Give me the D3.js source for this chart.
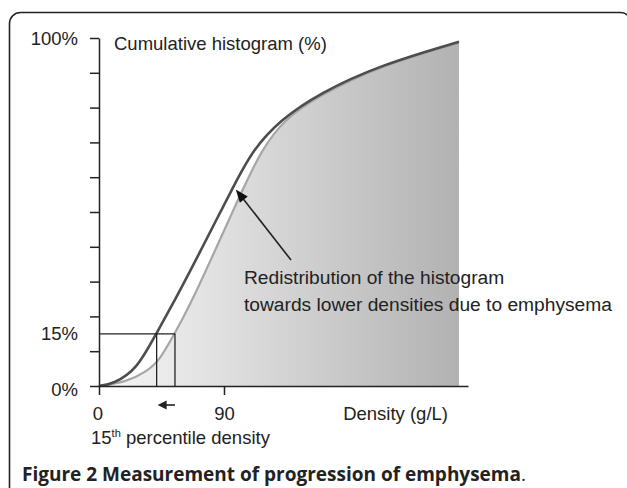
<!DOCTYPE html>
<html>
<head>
<meta charset="utf-8">
<script src="https://cdn.jsdelivr.net/npm/d3@7"></script>
<style>
  body { margin: 0; background: #fff; }
  text { font-family: "Liberation Sans", Arial, sans-serif; fill: #222; }
</style>
</head>
<body>
<div id="chart"></div>
<script>
// density (g/L) vs cumulative histogram (%)
const normalCurve = [[0,0],[10.1,0.6],[27.1,4.6],[41.5,15.3],[54.7,24.7],[69.8,36.2],[99.1,59.2],[110.9,67.8],[130.3,76.4],[159.1,84.2],[202.3,92.2],[259.2,98.9]];
const emphCurve = [[0,0],[19.9,1.2],[34.3,4.1],[43.9,7.5],[54.7,15.3],[67.7,24.7],[106.3,59.2],[117.4,67.8],[132.5,76.4],[159.1,83.6],[202.3,92.0],[259.2,98.6]];
const yTicks = [0,10,20,30,40,50,60,70,80,90,100];
const yLabels = [[0,"0%"],[15,"15%"],[100,"100%"]];
const xTicks = [0,90];
const pct15 = 15;
const p15Normal = 41.5;
const p15Emph = 54.7;

const W = 627, H = 488;
const svg = d3.select("#chart").append("svg").attr("width", W).attr("height", H);

// rounded frame
svg.append("rect")
  .attr("x", 9.5).attr("y", 12.5)
  .attr("width", 622).attr("height", 500)
  .attr("rx", 11)
  .attr("fill", "none").attr("stroke", "#222").attr("stroke-width", 1.6);

const x = d3.scaleLinear().domain([0, 265.7]).range([99, 468]);
const y = d3.scaleLinear().domain([0, 100]).range([386, 38]);

const defs = svg.append("defs");
const grad = defs.append("linearGradient").attr("id", "fillGrad")
  .attr("gradientUnits", "userSpaceOnUse")
  .attr("x1", x(0)).attr("x2", x(259.2)).attr("y1", 0).attr("y2", 0);
grad.append("stop").attr("offset", "0%").attr("stop-color", "#f7f7f7");
grad.append("stop").attr("offset", "100%").attr("stop-color", "#b2b2b2");

const smooth = d3.curveBasis;
const area = d3.area()
  .x(d => x(d[0])).y0(y(0)).y1(d => y(d[1]))
  .curve(smooth);
svg.append("path").datum(emphCurve)
  .attr("d", area).attr("fill", "url(#fillGrad)");

const line = d3.line().x(d => x(d[0])).y(d => y(d[1])).curve(smooth);
svg.append("path").datum(emphCurve)
  .attr("d", line).attr("fill", "none").attr("stroke", "#a6a6a6").attr("stroke-width", 2.2);
svg.append("path").datum(normalCurve)
  .attr("d", line).attr("fill", "none").attr("stroke", "#4d4d4d").attr("stroke-width", 2.6);

// 15th percentile guides
const guide = svg.append("g").attr("stroke", "#222").attr("stroke-width", 1.3).attr("fill", "none");
guide.append("line").attr("x1", x(0)).attr("x2", x(p15Emph)).attr("y1", y(pct15)).attr("y2", y(pct15));
guide.append("line").attr("x1", x(p15Normal)).attr("x2", x(p15Normal)).attr("y1", y(pct15)).attr("y2", y(0));
guide.append("line").attr("x1", x(p15Emph)).attr("x2", x(p15Emph)).attr("y1", y(pct15)).attr("y2", y(0));

// axes
const yAxis = svg.append("g").attr("transform", `translate(${x(0)},0)`)
  .call(d3.axisLeft(y).tickValues(yTicks).tickSize(9).tickSizeOuter(0).tickFormat(""));
const xAxis = svg.append("g").attr("transform", `translate(0,${y(0)})`)
  .call(d3.axisBottom(x).tickValues(xTicks).tickSize(9).tickSizeOuter(0).tickPadding(12).tickFormat(d => d));
[yAxis, xAxis].forEach(g => {
  g.selectAll("path, line").attr("stroke", "#222").attr("stroke-width", 1.5);
});
xAxis.selectAll("text").attr("font-size", 18.5).attr("fill", "#222")
  .style("font-family", '"Liberation Sans", Arial, sans-serif');
xAxis.select(".tick text").attr("dx", -1.5);

svg.selectAll(".ylab").data(yLabels).enter().append("text")
  .attr("class", "ylab")
  .attr("x", 78).attr("y", d => y(d[0]) + (d[0] === 0 ? 3 : 0))
  .attr("dy", "0.36em").attr("text-anchor", "end").attr("font-size", 18.5)
  .text(d => d[1]);

svg.append("text").attr("x", 114).attr("y", 50).attr("font-size", 18.5)
  .text("Cumulative histogram (%)");
svg.append("text").attr("x", 448).attr("y", 420).attr("text-anchor", "end").attr("font-size", 18.5)
  .text("Density (g/L)");

const pl = svg.append("text").attr("x", 91).attr("y", 444).attr("font-size", 18.5);
pl.append("tspan").text("15");
pl.append("tspan").attr("dy", -7).attr("font-size", 11).text("th");
pl.append("tspan").attr("dy", 7).text(" percentile density");

// small shift arrow under the axis
svg.append("line").attr("x1", x(p15Normal) + 8).attr("x2", x(p15Emph)).attr("y1", 405).attr("y2", 405)
  .attr("stroke", "#222").attr("stroke-width", 1.6);
svg.append("path")
  .attr("d", `M${x(p15Normal) + 1},405 l9,-4.5 l0,9 z`).attr("fill", "#222");

// annotation
svg.append("text").attr("x", 244).attr("y", 284).attr("font-size", 19.2)
  .text("Redistribution of the histogram");
svg.append("text").attr("x", 244).attr("y", 311).attr("font-size", 19.2)
  .text("towards lower densities due to emphysema");

const tipX = x(98.5), tipY = y(56.5);
const tailX = 291, tailY = 260;
const ang = Math.atan2(tipY - tailY, tipX - tailX);
svg.append("line").attr("x1", tailX).attr("y1", tailY)
  .attr("x2", tipX - 10 * Math.cos(ang)).attr("y2", tipY - 10 * Math.sin(ang))
  .attr("stroke", "#222").attr("stroke-width", 1.6);
const hl = 13, hw = 5;
const bx = tipX - hl * Math.cos(ang), by = tipY - hl * Math.sin(ang);
svg.append("path")
  .attr("d", `M${tipX},${tipY} L${bx + hw * Math.sin(ang)},${by - hw * Math.cos(ang)} L${bx - hw * Math.sin(ang)},${by + hw * Math.cos(ang)} Z`)
  .attr("fill", "#111");

// caption
const cap = svg.append("text").attr("x", 22).attr("y", 481)
  .style("font-family", '"Open Sans", "Noto Sans", sans-serif').attr("font-size", 19).attr("fill", "#111");
cap.append("tspan").attr("font-weight", 700).text("Figure 2 Measurement of progression of emphysema");
cap.append("tspan").attr("font-weight", 400).text(".");
</script>
</body>
</html>
